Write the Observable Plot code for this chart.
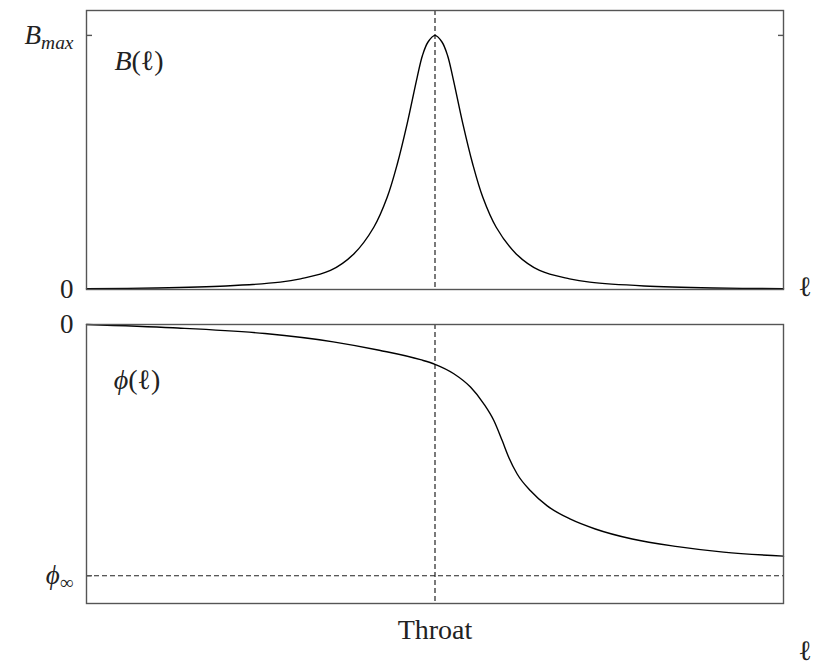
<!DOCTYPE html>
<html><head><meta charset="utf-8">
<script src="https://cdn.jsdelivr.net/npm/d3@7"></script>
<script src="https://cdn.jsdelivr.net/npm/@observablehq/plot@0.6"></script>
<style>
body{margin:0;background:#fff;}
#chart{position:relative;width:814px;height:666px;}
#chart svg{position:absolute;left:0;font-family:"Liberation Serif","DejaVu Serif",serif;}
</style></head><body><div id="chart"></div>
<script>
// B(ℓ) – top panel
const ellB = [-5,-4,-3,-2.22,-1.93,-1.5,-1.165,-0.878,-0.686,-0.54,-0.4,-0.255,-0.18,-0.1,0,0.1,0.18,0.255,0.4,0.54,0.686,0.878,1.165,1.5,1.93,2.22,3,4,5];
const bValues = [0.003,0.006,0.014,0.029,0.042,0.075,0.14,0.245,0.363,0.495,0.652,0.836,0.921,0.974,1,0.974,0.921,0.836,0.652,0.495,0.363,0.245,0.14,0.075,0.042,0.029,0.014,0.006,0.003];
// ϕ(ℓ) – bottom panel
const ellPhi = [-5,-3.76,-2.44,-1.46,-0.8,-0.208,0,0.27,0.509,0.7,0.844,0.964,1.059,1.179,1.37,1.61,1.944,2.3,2.83,3.48,4.14,5];
const phiValues = [0,-0.013,-0.036,-0.069,-0.1025,-0.14,-0.1585,-0.196,-0.249,-0.3155,-0.382,-0.462,-0.529,-0.595,-0.662,-0.722,-0.775,-0.814,-0.854,-0.884,-0.906,-0.922];
const throatAt = 0;
const bMax = 1;
const phiInfinity = -1;
const topTickLabels = ["0", "Bmax"];
const bottomTickLabels = ["0", "ϕ∞"];
const xTickLabel = "Throat";

const font = '"Liberation Serif","DejaVu Serif",serif';
const dashed = {stroke:"#222", strokeWidth:1.2, strokeDasharray:"5,3"};
const frameStyle = {stroke:"#555", strokeWidth:1.4};

const topData = ellB.map((l,i)=>({l, b:bValues[i]}));
const botData = ellPhi.map((l,i)=>({l, p:phiValues[i]}));

const topPlot = Plot.plot({
  width:814, height:300, marginLeft:86, marginRight:31, marginTop:10, marginBottom:11,
  x:{domain:[-5,5], axis:null},
  y:{domain:[0,1.098], axis:null},
  style:{fontFamily:font, fontSize:"27px", color:"#222", background:"transparent", overflow:"visible"},
  marks:[
    Plot.ruleX([throatAt], dashed),
    Plot.line(topData, {x:"l", y:"b", curve:"catmull-rom", stroke:"#000", strokeWidth:1.4}),
    Plot.frame(frameStyle),
    Plot.axisY([bMax], {anchor:"left", label:null, tickSize:-6, tickFormat:()=>"", stroke:"#555", strokeWidth:1.4}),
    Plot.axisY([bMax], {anchor:"right", label:null, tickSize:-6, tickFormat:()=>"", stroke:"#555", strokeWidth:1.4}),
    Plot.axisY([0,bMax], {anchor:"left", label:null, tickSize:0, tickPadding:13, fontSize:27, tickFormat:d=>topTickLabels[d===0?0:1]}),
    Plot.text(["B(ℓ)"], {x:-4.6, y:0.898, textAnchor:"start", fontSize:28}),
    Plot.text(["ℓ"], {x:5.31, y:0.01, fontSize:28})
  ]
});

const botPlot = Plot.plot({
  width:814, height:366, marginLeft:86, marginRight:31, marginTop:24, marginBottom:63,
  x:{domain:[-5,5], axis:null},
  y:{domain:[-1.1105,0], axis:null},
  style:{fontFamily:font, fontSize:"27px", color:"#222", background:"transparent", overflow:"visible"},
  marks:[
    Plot.ruleX([throatAt], dashed),
    Plot.ruleY([phiInfinity], dashed),
    Plot.line(botData, {x:"l", y:"p", curve:"monotone-x", stroke:"#000", strokeWidth:1.4}),
    Plot.frame(frameStyle),
    Plot.axisY([phiInfinity], {anchor:"left", label:null, tickSize:-6, tickFormat:()=>"", stroke:"#555", strokeWidth:1.4}),
    Plot.axisY([0,phiInfinity], {anchor:"left", label:null, tickSize:0, tickPadding:13, fontSize:27, tickFormat:d=>bottomTickLabels[d===0?0:1]}),
    Plot.axisX([throatAt], {anchor:"bottom", label:null, tickSize:0, tickPadding:16, fontSize:28, tickFormat:()=>xTickLabel}),
    Plot.text(["ϕ(ℓ)"], {x:-4.61, y:-0.222, textAnchor:"start", fontSize:28}),
    Plot.text(["ℓ"], {x:5.31, y:-1.30, fontSize:28})
  ]
});

const math = {
  "Bmax": [{t:"B", i:true},{t:"max", i:true, sub:true}],
  "ϕ∞": [{t:"ϕ", i:true},{t:"∞", sub:true}],
  "B(ℓ)": [{t:"B", i:true},{t:"("},{t:"ℓ"},{t:")"}],
  "ϕ(ℓ)": [{t:"ϕ", i:true},{t:"("},{t:"ℓ"},{t:")"}]
};
function mathify(svg){
  d3.select(svg).selectAll("text").each(function(){
    const spec = math[this.textContent];
    if (!spec) return;
    const sel = d3.select(this); sel.text(null);
    spec.forEach(p=>{
      const ts = sel.append("tspan").text(p.t);
      if (p.i) ts.attr("font-style","italic");
      if (p.sub) ts.attr("font-size","0.72em").attr("dy","5px");
    });
  });
}
mathify(topPlot); mathify(botPlot);
const chart = document.getElementById("chart");
topPlot.style.top = "0px";
botPlot.style.top = "300px";
chart.append(topPlot, botPlot);
</script></body></html>
